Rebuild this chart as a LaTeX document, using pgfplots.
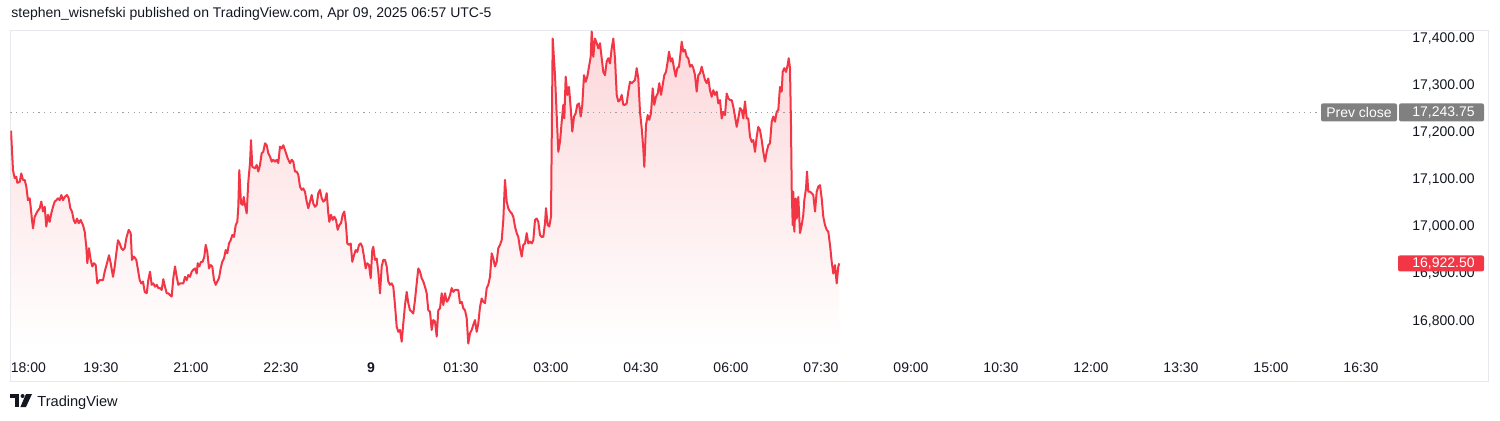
\documentclass[border=0pt]{standalone}
\usepackage{pgfplots}
\pgfplotsset{compat=1.18}
\usepackage{pgfplotstable}
\usepackage{fontspec}
\setmainfont{Liberation Sans}
\definecolor{tvred}{HTML}{F23645}
\definecolor{tvtext}{HTML}{131722}
\definecolor{tvbox}{HTML}{808080}
\definecolor{tvframe}{HTML}{E6E8EE}
\pgfplotstableread{
m v
0 17205
2 17121
3.7 17104
5.3 17107
6.3 17094
8.7 17096
10.3 17114
12 17100
13.7 17100
15.3 17086
17 17057
18.7 17061
19.7 17043
21 17015
22 16997
23.7 17022
26.3 17033
28.7 17040
30.3 17054
32 17033
33.7 17043
35.3 17001
37 17026
38.7 17011
40.3 17029
42 17043
43.7 17054
45.3 17057
47 17061
48.7 17057
50.3 17068
52 17057
53.7 17064
56 17068
57.7 17061
59.3 17040
61 17033
62.7 17015
64.3 17008
66 17018
67.7 17008
69.7 17015
72 17004
73.7 16990
75.3 16958
76.3 16923
78 16955
79.7 16930
81.3 16916
83 16923
84.7 16919
86.3 16880
88.7 16887
92 16887
93.7 16905
96 16923
98 16940
99.7 16923
102 16894
103.7 16916
105.3 16944
107 16972
108.7 16965
110.3 16955
112 16951
113.7 16955
115.3 16976
117.7 16994
119.7 16987
121 16930
123 16937
125.3 16930
127 16909
128.7 16887
130.3 16880
132 16884
133.7 16862
135.7 16859
137.3 16887
139 16905
140.7 16877
142.3 16880
144 16873
145.7 16877
147.3 16870
149 16870
150.7 16866
152.3 16889
154 16873
155.7 16859
157.3 16859
159 16855
160.7 16852
162.3 16891
164 16916
165.7 16894
167.3 16877
169 16880
170.7 16880
172.3 16880
174 16894
175.7 16887
177.3 16898
179 16894
180.7 16905
182.3 16909
184 16912
185.7 16901
186.7 16923
188.3 16916
190 16926
191.7 16926
193.3 16937
194.7 16962
196.3 16947
198 16912
199.7 16919
201.3 16916
203 16887
204.7 16877
206.3 16884
208 16891
209.7 16912
211.3 16926
213 16933
214.7 16951
216.3 16944
218 16965
219.7 16972
221.3 16983
223 16979
224.7 17004
226.3 17011
227.3 17043
228.3 17121
230 17050
231.7 17047
232.7 17064
234 17047
235.7 17029
237.3 17096
239 17136
240 17185
241.3 17128
244 17125
245.7 17132
247.3 17118
249 17132
250.7 17157
252.3 17160
254 17178
255.7 17174
257.3 17157
259 17150
260.7 17139
262.3 17143
264 17139
265.7 17143
267.3 17136
269 17171
270.7 17167
272.3 17174
274 17164
276.7 17146
279 17136
280.7 17143
282.3 17139
284 17118
285.7 17118
287.3 17111
289 17086
290.7 17079
292.3 17082
294 17075
295.7 17054
297.3 17040
299 17054
300.7 17068
302.3 17050
304 17043
305.7 17047
307.3 17072
309 17079
310.7 17061
312.3 17054
314 17057
315.7 17072
317.3 17029
318.3 17011
320 17026
321.7 17015
323.3 17022
325 17015
326.7 16994
328.3 17004
330 17008
331.7 17026
333.3 17033
335 17004
336.3 16965
338 16962
339.7 16965
341.3 16926
343 16940
344.7 16951
346.3 16947
348 16962
349.7 16965
351.3 16958
353 16937
354.7 16912
356.3 16923
358 16919
359.7 16891
361.3 16951
362.3 16958
364 16930
365.7 16933
367.3 16905
369 16859
370.7 16916
372.3 16930
374 16930
375.7 16916
377.3 16884
379 16877
380.7 16880
382.3 16873
384 16834
385.7 16788
387.3 16777
389 16781
390.7 16756
392.3 16795
394 16834
395.7 16862
397.3 16838
399 16823
400.7 16820
402.3 16816
404 16845
405.7 16880
407.3 16912
409 16905
410.7 16891
412.3 16884
414 16873
415.7 16859
417.3 16823
419 16820
420.7 16781
422.3 16802
424 16799
425.7 16767
427.3 16823
429 16827
430.7 16859
432.3 16834
434 16859
435.7 16841
437.3 16845
439 16855
440.7 16870
442.3 16862
444 16866
445.7 16866
447.3 16866
449 16838
450.7 16841
452.3 16827
454 16823
455.7 16806
457.3 16752
459 16774
460.7 16781
462.3 16792
464 16802
465.7 16777
467.3 16795
469 16830
470.7 16848
472.3 16841
474 16838
475.7 16870
477.3 16877
479 16894
480.7 16944
482.3 16933
484 16916
485.7 16926
487.3 16955
489 16962
490.7 16972
492.3 17015
494 17100
495.7 17054
497.3 17040
499 17033
500.7 17029
502.3 17022
504 17001
505.7 16987
507.3 16979
509 16955
510.7 16937
512.3 16962
514 16965
515.7 16987
517.3 16965
519 16969
520.7 16965
522.3 16972
524 17015
525.7 17018
527.3 17011
529 16983
530.7 16979
532.3 16979
534 17008
535 17040
536.7 17004
538.3 17001
540 17022
541.7 17401
544 17323
545.7 17238
547.3 17160
549 17181
550.7 17224
552.3 17260
553.3 17231
554.7 17320
556.3 17281
558 17298
559.7 17253
561.3 17203
563 17235
564.7 17242
566.3 17260
568 17263
569.7 17235
571.3 17260
573 17323
574.7 17309
576.3 17320
578 17341
579.7 17362
580.7 17416
582.3 17362
584 17401
585.7 17391
587.3 17380
589 17391
590.7 17359
592.3 17330
594 17323
595.7 17352
597.3 17359
599 17348
600.7 17380
602.3 17401
604 17359
605.7 17281
607.3 17267
609 17270
610.7 17281
612.3 17260
614 17260
615.7 17263
617.3 17288
619 17309
620.7 17306
622.3 17309
624 17313
625.7 17338
627.3 17316
629 17245
630.7 17210
632.3 17167
633.3 17128
635 17217
636.7 17238
638.3 17228
640 17242
641.7 17295
643.3 17260
645 17277
646.7 17284
648.3 17306
650 17281
651.7 17302
653.3 17323
655 17330
656.7 17352
658 17373
659.7 17352
661.3 17359
663 17338
664.7 17320
666.3 17338
668 17341
669.7 17373
670.7 17394
672.3 17373
674 17377
675.7 17362
677.3 17359
679 17341
680.7 17345
682.3 17338
684 17323
685.7 17288
687.3 17323
689 17327
690.7 17341
692.3 17327
694 17313
695.7 17306
697.3 17316
699 17291
700.7 17277
702.3 17291
704 17281
705.7 17288
707.3 17263
709 17270
710.7 17231
712.3 17245
714 17238
715.7 17284
717.3 17274
719 17270
720.7 17270
722.3 17256
724 17235
725.7 17213
727.3 17231
729 17253
730.7 17249
732.3 17231
734 17267
735.7 17231
737.3 17231
739 17192
740.7 17181
742.3 17185
744 17160
745.7 17192
747.3 17213
749 17206
750.7 17185
752.3 17160
754 17139
755.7 17160
757.3 17174
759 17178
760.7 17224
762.3 17235
764 17224
765.7 17245
767.3 17249
769 17298
770.7 17288
771.7 17330
773.3 17338
775 17330
776.7 17345
777.7 17359
779 17338
780 17217
780.7 17082
781.7 17004
782.3 17075
783.3 16990
784.7 17061
785.7 17018
787.3 17064
789 16987
790.7 17004
792.3 17026
793.3 17057
795 17082
796 17118
797.3 17075
799 17075
800.7 17072
802.3 17068
804 17033
805.7 17075
807.3 17086
809 17089
810.7 17061
812.3 17022
814 17004
815.7 16994
817.3 16990
819 16962
820.7 16926
822.3 16901
824 16919
825.7 16880
827.3 16916
828.3 16922.5
}\pricedata
\begin{document}
\begin{tikzpicture}[font=\fontsize{7}{8.4}\selectfont]
\useasboundingbox (0,0) rectangle (750pt,210pt);
\draw[tvframe, line width=0.5pt] (5pt,19.5pt) rectangle (744pt,195pt);
\node[anchor=base west, inner sep=0pt, text=tvtext] at (5.5pt,201.25pt) {stephen\_wisnefski published on TradingView.com, Apr 09, 2025 06:57 UTC-5};
\begin{axis}[
  at={(5.25pt,36.5pt)}, anchor=south west,
  scale only axis, width=693.25pt, height=158.5pt,
  xmin=-0.5, xmax=1386, ymin=16744.7, ymax=17419.1,
  axis line style={draw=none},
  major tick length=0pt, tick style={draw=none},
  scaled y ticks=false, scaled x ticks=false,
  xtick={90,180,...,1350},
  xticklabels={19:30,21:00,22:30,\textbf{9},01:30,03:00,04:30,06:00,07:30,09:00,10:30,12:00,13:30,15:00,16:30},
  extra x ticks={-0.5}, extra x tick labels={18:00},
  extra x tick style={xticklabel style={anchor=base west}},
  xticklabel style={anchor=base, yshift=-12.5pt, inner sep=0pt, text=tvtext, font=\fontsize{7}{8.4}\selectfont},
  ytick={16800,16900,...,17400},
  yticklabel pos=right,
  yticklabel style={anchor=west, xshift=7.5pt, inner sep=0pt, text=tvtext, font=\fontsize{7}{8.4}\selectfont,
    /pgf/number format/fixed, /pgf/number format/fixed zerofill, /pgf/number format/precision=2,
    /pgf/number format/1000 sep={,}, /pgf/number format/assume math mode=true},
]
\addplot[draw=none, top color=tvred!20!white, bottom color=white] table[x=m,y=v]{\pricedata} -- (axis cs:828.3,16744.7) -- (axis cs:0,16744.7) -- cycle;
\draw[gray!75, line width=0.6pt, dash pattern=on 0.6pt off 2.2pt] (axis cs:-0.5,17243.75) -- (axis cs:1309,17243.75);
\addplot[tvred, line width=1pt, line join=round] table[x=m,y=v]{\pricedata};
\end{axis}
% price scale boxes
\fill[tvbox, rounded corners=1pt] (660.5pt,149.3pt) rectangle (698.5pt,158.3pt);
\node[text=white, inner sep=0pt] at (679.5pt,153.8pt) {Prev close};
\fill[tvbox, rounded corners=1pt] (699.5pt,149.3pt) rectangle (742pt,158.3pt);
\node[text=white, inner sep=0pt] at (721.75pt,153.8pt) {17,243.75};
\fill[tvred, rounded corners=1pt] (699pt,74.3pt) rectangle (742pt,82.3pt);
\node[text=white, inner sep=0pt] at (721.75pt,78.3pt) {16,922.50};
% logo
\fill[tvtext] (5pt,11pt) rectangle (9.5pt,13pt);
\fill[tvtext] (7.5pt,6.5pt) rectangle (9.5pt,13pt);
\fill[tvtext] (11.3pt,12pt) circle (1pt);
\fill[tvtext] (13pt,13pt) -- (16pt,13pt) -- (13pt,6.5pt) -- (10.2pt,6.5pt) -- cycle;
\node[anchor=base west, inner sep=0pt, text=tvtext, font=\fontsize{7.3}{8.8}\selectfont] at (18.5pt,7pt) {TradingView};
\end{tikzpicture}
\end{document}
